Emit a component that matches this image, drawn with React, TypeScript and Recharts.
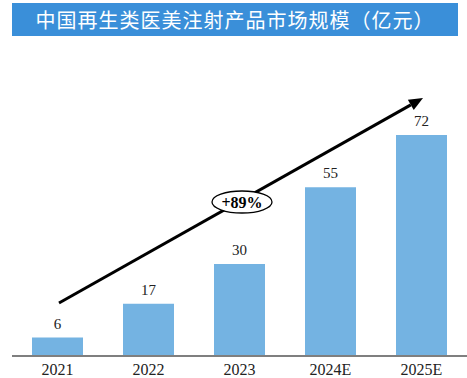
import { Bar, BarChart, Customized, LabelList, XAxis, YAxis } from "recharts";

const years = ["2021", "2022", "2023", "2024E", "2025E"];
const marketSize = [6, 17, 30, 55, 72];
const growthLabel = "+89%";
const title = "中国再生类医美注射产品市场规模（亿元）";

const chartData = years.map((year, i) => ({ year, value: marketSize[i] }));

const serif = '"Liberation Serif", "Times New Roman", serif';

function GrowthArrow() {
  const x1 = 59;
  const y1 = 303;
  const x2 = 423;
  const y2 = 98;
  const ang = Math.atan2(y2 - y1, x2 - x1);
  const len = 14;
  const half = 6;
  const bx = x2 - len * Math.cos(ang);
  const by = y2 - len * Math.sin(ang);
  const px = -Math.sin(ang) * half;
  const py = Math.cos(ang) * half;
  return (
    <g>
      <line x1={x1} y1={y1} x2={bx} y2={by} stroke="#000" strokeWidth={3} />
      <polygon points={`${x2},${y2} ${bx + px},${by + py} ${bx - px},${by - py}`} fill="#000" />
      <ellipse cx={242} cy={202} rx={30} ry={11} fill="#fff" stroke="#000" strokeWidth={1.3} />
      <text
        x={242}
        y={207.5}
        textAnchor="middle"
        fontFamily={serif}
        fontWeight="bold"
        fontSize={16}
        fill="#000"
      >
        {growthLabel}
      </text>
    </g>
  );
}

export default function App() {
  return (
    <div style={{ position: "absolute", left: 0, top: 0, width: 467, height: 378, background: "#fff" }}>
      <div
        style={{
          position: "absolute",
          left: 12,
          top: 3,
          width: 446,
          height: 33,
          background: "#3a8fd9",
          color: "#fff",
          fontFamily: '"Noto Sans CJK SC", sans-serif',
          fontSize: 20,
          lineHeight: "33px",
          textAlign: "center",
          letterSpacing: 1,
        }}
      >
        {title}
      </div>
      <BarChart
        width={467}
        height={378}
        data={chartData}
        margin={{ top: 49, right: 0, left: 12, bottom: 0 }}
        barCategoryGap={20}
      >
        <XAxis
          dataKey="year"
          height={22}
          axisLine={{ stroke: "#7f7f7f", strokeWidth: 2 }}
          tickLine={false}
          tick={{ fontSize: 16, fill: "#222", fontFamily: serif }}
          interval={0}
        />
        <YAxis hide domain={[0, 100]} />
        <Bar dataKey="value" fill="#74b3e2" barSize={51} isAnimationActive={false}>
          <LabelList
            dataKey="value"
            position="top"
            offset={9}
            style={{ fontSize: 15, fill: "#222", fontFamily: serif }}
          />
        </Bar>
        <Customized component={GrowthArrow} />
      </BarChart>
    </div>
  );
}
